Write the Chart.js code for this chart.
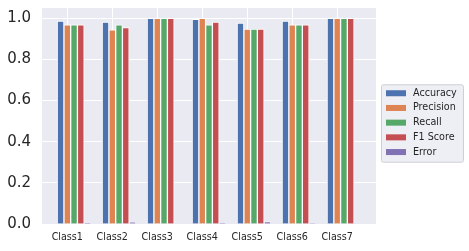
<!DOCTYPE html>
<html>
<head>
<meta charset="utf-8">
<script src="https://cdn.jsdelivr.net/npm/chart.js@4"></script>
<style>
    body { margin: 0; background: #ffffff; }
    canvas { display: block; }
</style>
</head>
<body>
<canvas id="myChart" width="469" height="251"></canvas>
<script>
const classes = ['Class1', 'Class2', 'Class3', 'Class4', 'Class5', 'Class6', 'Class7'];
const accuracy = [0.987, 0.982, 1.0, 0.995, 0.977, 0.987, 1.0];
const precision = [0.968, 0.944, 1.0, 1.0, 0.948, 0.968, 1.0];
const recall = [0.968, 0.968, 1.0, 0.968, 0.948, 0.968, 1.0];
const f1score = [0.968, 0.955, 1.0, 0.982, 0.948, 0.968, 1.0];
const error = [0.003, 0.009, 0, 0.003, 0.011, 0.002, 0];
const yTicks = [0, 0.2, 0.4, 0.6, 0.8, 1.0];

const barW = 0.15;
const font = 'DejaVu Sans';
const textColor = '#262626';

// bar k of each group sits at class index + (k - 1) * barW, like the matplotlib code
function points(vals, k) {
    return vals.map((v, i) => ({ x: i + (k - 1) * barW, y: v }));
}

function dataset(label, vals, k, color) {
    return {
        label: label,
        data: points(vals, k),
        backgroundColor: color,
        borderColor: '#ffffff',
        borderWidth: 1,
        grouped: false,
        barPercentage: 1,
        categoryPercentage: 1
    };
}

// grey plot background (seaborn darkgrid)
const bgPlugin = {
    id: 'bg',
    beforeDraw(chart) {
        const a = chart.chartArea;
        const ctx = chart.ctx;
        ctx.save();
        ctx.fillStyle = '#eaeaf2';
        ctx.fillRect(a.left, a.top, a.right - a.left, a.bottom - a.top);
        ctx.restore();
    }
};

// framed legend to the right of the plot
const legendPlugin = {
    id: 'boxLegend',
    afterDraw(chart) {
        const ctx = chart.ctx;
        const a = chart.chartArea;
        const sets = chart.data.datasets;
        const x = a.right + 5;
        const rowH = 14.7;
        const h = sets.length * rowH + 4;
        const y = (a.top + a.bottom) / 2 - h / 2 + 7;
        const w = 82;
        ctx.save();
        ctx.beginPath();
        ctx.roundRect(x + 0.5, y + 0.5, w, h, 2);
        ctx.fillStyle = 'rgba(234,234,242,0.8)';
        ctx.fill();
        ctx.strokeStyle = '#cfcfd6';
        ctx.lineWidth = 1;
        ctx.stroke();
        ctx.font = '9.6px "' + font + '"';
        ctx.textBaseline = 'middle';
        sets.forEach((ds, i) => {
            const cy = y + 9 + i * rowH;
            ctx.fillStyle = ds.backgroundColor;
            ctx.fillRect(x + 5, cy - 3, 20, 6);
            ctx.fillStyle = textColor;
            ctx.fillText(ds.label, x + 32, cy);
        });
        ctx.restore();
    }
};

function noPad(axis) {
    axis.paddingTop = 0;
    axis.paddingBottom = 0;
    axis.paddingLeft = 0;
    axis.paddingRight = 0;
}

const canvas = document.getElementById('myChart').getContext('2d');
const myChart = new Chart(canvas, {
    type: 'bar',
    data: {
        datasets: [
            dataset('Accuracy', accuracy, 0, '#4c72b0'),
            dataset('Precision', precision, 1, '#dd8452'),
            dataset('Recall', recall, 2, '#55a868'),
            dataset('F1 Score', f1score, 3, '#c44e52'),
            dataset('Error', error, 4, '#8172b3')
        ]
    },
    options: {
        responsive: false,
        animation: false,
        layout: { padding: { left: 0, right: 93, top: 8, bottom: 0 } },
        plugins: {
            legend: { display: false },
            tooltip: { enabled: false }
        },
        scales: {
            x: {
                type: 'linear',
                offset: false,
                min: -0.5625,
                max: 6.8625,
                afterBuildTicks: axis => { axis.ticks = classes.map((c, i) => ({ value: i })); },
                afterFit: axis => { noPad(axis); axis.height = 27; },
                ticks: {
                    callback: v => classes[v],
                    color: textColor,
                    font: { family: font, size: 9.6 },
                    padding: 8,
                    maxRotation: 0,
                    autoSkip: false
                },
                grid: { color: '#ffffff', lineWidth: 1, drawTicks: false, offset: false },
                border: { display: false }
            },
            y: {
                min: 0,
                max: 1.05,
                afterBuildTicks: axis => { axis.ticks = yTicks.map(v => ({ value: v })); },
                afterFit: axis => { noPad(axis); axis.width = 42; },
                ticks: {
                    callback: v => v.toFixed(1),
                    color: textColor,
                    font: { family: font, size: 15 },
                    padding: 11
                },
                grid: { color: '#ffffff', lineWidth: 1, drawTicks: false },
                border: { display: false }
            }
        }
    },
    plugins: [bgPlugin, legendPlugin]
});
</script>
</body>
</html>
